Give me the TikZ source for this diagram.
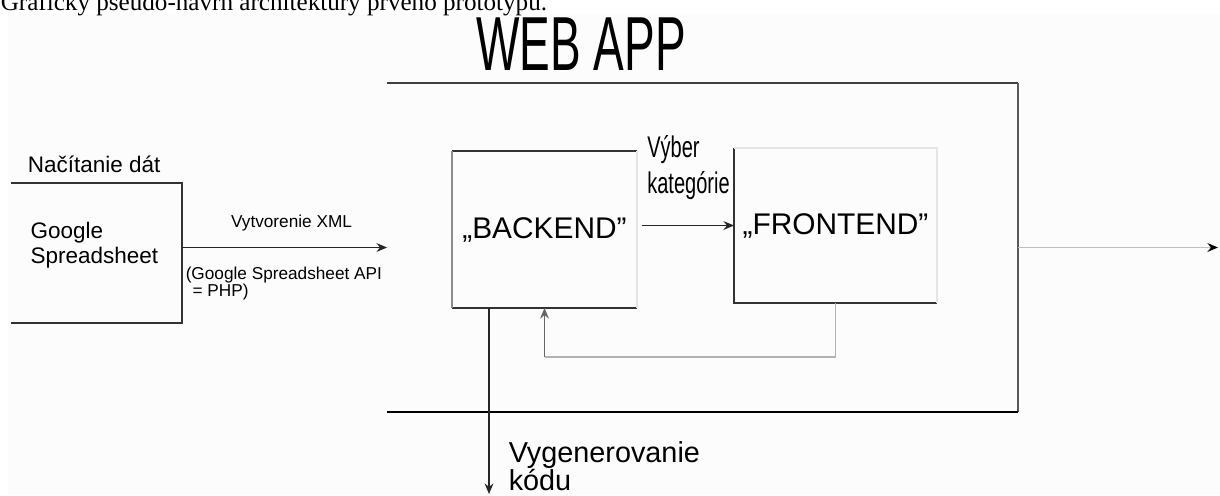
\documentclass[tikz,border=0pt]{standalone}
\usepackage{fontspec}
\setmainfont{Liberation Sans}
\newfontfamily\capfont{Liberation Serif}
\usepackage{tikz}
\usetikzlibrary{arrows.meta,calc,positioning}

\begin{document}
\begin{tikzpicture}[x=0.02cm,y=-0.02cm,>={Stealth[length=6pt,width=5pt]},
                    line width=0.9pt,
                    box/.style={inner sep=0pt,outer sep=0pt},
                    dark/.style={draw=black!80},
                    faint/.style={draw=black!10},
                    light/.style={draw=black!30},
                    arr/.style={->,draw=black!85},
                    bigtext/.style={font=\fontsize{17}{20.4}\selectfont},
                    midtext/.style={font=\fontsize{12.8}{14.2}\selectfont},
                    smalltext/.style={font=\fontsize{9.8}{9.6}\selectfont}]

\useasboundingbox (0,0) rectangle (1220,495);
\clip (0,0) rectangle (1220,495);
\fill[black!1] (8,14) rectangle (1220,495);

% caption and title
\node[anchor=base west,inner sep=0pt,font=\capfont\fontsize{14.3}{17}\selectfont] (caption) at (0,10)
    {Grafický pseudo-návrh architektúry prvého prototypu.};
\node[anchor=base,inner sep=0pt,font=\fontsize{43.6}{50}\selectfont] (title) at (581,70)
    {\scalebox{0.6}[1]{WEB APP}};

% boxes
\node[box,minimum width=12.62cm,minimum height=6.58cm] (app) at (702.5,247.5) {};
\node[box,minimum width=3.42cm,minimum height=2.8cm] (gs) at (96.5,253) {};
\node[box,bigtext,minimum width=3.7cm,minimum height=3.14cm] (back) at (544.5,229.5) {„BACKEND"};
\node[box,bigtext,minimum width=4.06cm,minimum height=3.1cm] (front) at (835.5,225.5) {„FRONTEND"};

\node[midtext,align=left,inner sep=0pt] (gsname) at ($(gs.center)+(-2,-8)$) {Google\\Spreadsheet};
\node[midtext,anchor=base west,inner sep=0pt] (load) at (27,172) {Načítanie dát};

\draw[draw=black!75] (app.north west) -- (app.north east);
\draw[draw=black!65] (app.north east) -- (app.south east);
\draw[draw=black] (app.south east) -- (app.south west);

\draw[dark] (gs.north west) -- (gs.north east) -- (gs.south east) -- (gs.south west);

\draw[dark] (back.north west) -- (back.north east);
\draw[dark] (back.south west) -- (back.south east);
\draw[draw=black!45] (back.north west) -- (back.south west);
\draw[faint] (back.north east) -- (back.south east);

\draw[dark] (front.north west) -- (front.south west) -- (front.south east);
\draw[faint] (front.north west) -- (front.north east) -- (front.south east);

% connectors
\draw[arr] (gs.east |- app.west) -- (app.west)
    node[pos=0.534,anchor=base,yshift=11.3pt,smalltext] (xmlnote) {Vytvorenie XML}
    node[pos=0,anchor=north west,inner sep=0pt,xshift=1.7pt,yshift=-10.8pt,smalltext,align=left] (apinote)
        {(Google Spreadsheet API\\\hspace*{0.4em}= PHP)};

\draw[arr,shorten <=2.8pt] (back.east |- front.west) -- (front.west)
    node[midway,anchor=south,inner sep=0pt,xshift=1.7pt,yshift=11.6pt,bigtext] (choice)
        {\scalebox{0.67}[1]{\begin{tabular}{@{}l@{}}Výber\\kategórie\end{tabular}}};

\coordinate (fb) at (back.south |- 0,357);
\draw[light] (front.south) |- (fb);
\draw[->,draw=black!60] (fb) -- (back.south);

\coordinate (gen) at ($(back.south west)!.2!(back.south east)$);
\coordinate (codeout) at (gen |- 0,494);
\draw[arr] (gen) -- (codeout);
\node[anchor=north west,inner sep=0pt,align=left,font=\fontsize{16.4}{15.9}\selectfont] (gennote) at (508,441)
    {Vygenerovanie\\kódu};

\coordinate (out) at (1218,247.5);
\draw[-{Stealth[length=6pt,width=5pt,color=black]},draw=black!25] (app.east) -- (out);

\end{tikzpicture}
\end{document}
